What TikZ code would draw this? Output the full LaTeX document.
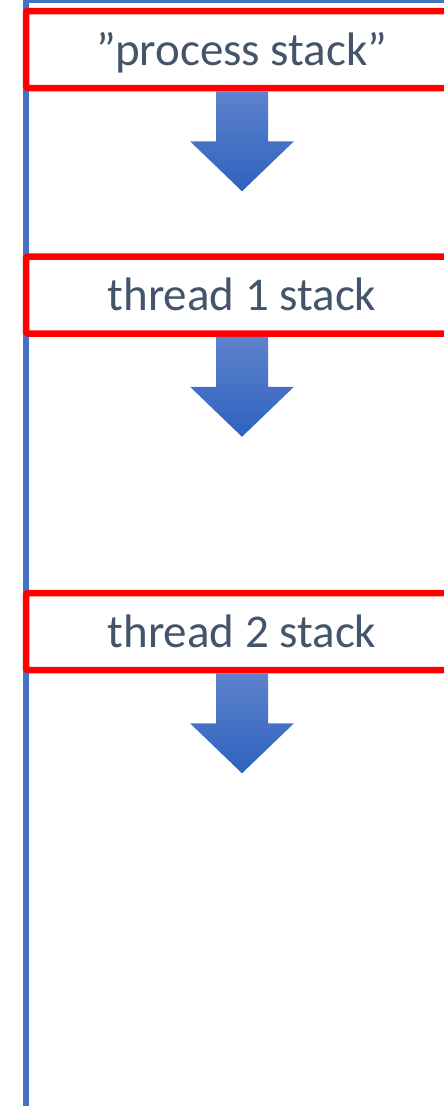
\documentclass[tikz,border=0pt]{standalone}
\usepackage{fontspec}
\setmainfont{Carlito}
\usetikzlibrary{positioning}

\definecolor{stackred}{RGB}{255,0,0}
\definecolor{lineblue}{RGB}{68,114,196}
\definecolor{textslate}{RGB}{68,84,106}
\definecolor{arrowtop}{RGB}{94,130,204}
\definecolor{arrowbot}{RGB}{46,98,190}

\begin{document}
\begin{tikzpicture}[x=1pt,y=-1pt,
    stackbox/.style={draw=stackred, line width=6.5pt, rounded corners=2pt,
        minimum width=432pt, minimum height=77pt, inner sep=0pt,
        text height=34pt, text depth=3pt, text=textslate,
        font=\fontsize{47}{56}\selectfont},
    downarrow/.style={top color=arrowtop, bottom color=arrowbot}]

    % Page size
    \useasboundingbox (0,0) rectangle (444,1106);
    \clip (0,0) rectangle (444,1106);

    % Blue border line (top and left)
    \draw[lineblue, line width=6pt] (444,0) -- (26,0) -- (26,1106);

    % Stack boxes
    \node[stackbox] (proc) at (242,49.5) {”process stack”};
    \node[stackbox] (thr1) at (242,295) {thread 1 stack};
    \node[stackbox] (thr2) at (242,631.5) {thread 2 stack};

    % Arrows below each box
    \foreach \stk in {proc,thr1,thr2} {
        \shade[downarrow] (\stk.south) ++(-26,0) -- ++(52,0) -- ++(0,50)
            -- ++(26,0) -- ++(-52,50) -- ++(-52,-50) -- ++(26,0) -- cycle;
    }

\end{tikzpicture}
\end{document}
